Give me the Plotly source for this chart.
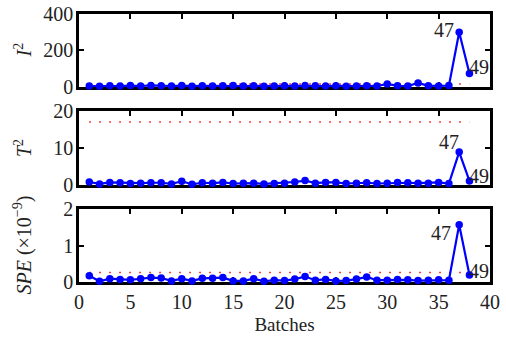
import plotly.graph_objects as go

# Batch index on the horizontal axis
batches = list(range(1, 39))

# Monitoring statistics per batch
i2_values = [5, 4, 6, 5, 7, 5, 8, 6, 5, 7, 4, 6, 5, 6, 7, 5, 6, 4, 5, 6,
             5, 7, 6, 5, 6, 4, 5, 6, 5, 16, 6, 5, 22, 6, 5, 7, 300, 73]
t2_values = [0.8, 0.3, 0.7, 0.6, 0.4, 0.5, 0.6, 0.6, 0.3, 1.0, 0.2, 0.6, 0.5, 0.7, 0.4, 0.5, 0.5, 0.3, 0.4, 0.5,
             0.8, 1.2, 0.5, 0.7, 0.7, 0.4, 0.5, 0.6, 0.4, 0.5, 0.7, 0.6, 0.5, 0.5, 0.7, 0.4, 8.9, 1.1]
spe_values = [0.17, 0.02, 0.09, 0.07, 0.06, 0.09, 0.12, 0.11, 0.03, 0.09, 0.03, 0.10, 0.10, 0.12, 0.03, 0.03, 0.09, 0.02, 0.05, 0.04,
              0.08, 0.15, 0.05, 0.07, 0.03, 0.04, 0.08, 0.14, 0.05, 0.05, 0.07, 0.06, 0.04, 0.05, 0.06, 0.05, 1.57, 0.19]

# Control limits
i2_limit = 16
t2_limit = 17
spe_limit = 0.26

# Labels for the two faulty batches
fault_labels = ["47", "49"]

x_ticks = [0, 5, 10, 15, 20, 25, 30, 35, 40]

FONT = "Liberation Serif, Times New Roman, serif"
TEXT_COLOR = "#222"
BLUE = "#0000ff"
RED = "#ff0000"

# Panel geometry (paper fractions)
domains = [[0.728, 1.0], [0.362, 0.638], [0.0, 0.272]]
panels = [
    (i2_values, i2_limit, [0, 400], [0, 200, 400], "<i>I</i><sup>2</sup>"),
    (t2_values, t2_limit, [0, 20], [0, 10, 20], "<i>T</i><sup>2</sup>"),
    (spe_values, spe_limit, [0, 2], [0, 1, 2], "<i>SPE</i> (×10<sup>−9</sup>)"),
]
# (xanchor, xshift, yshift) for labels "47" and "49" in each panel
label_offsets = [
    [("right", -3, 2), ("left", -2, 7)],
    [("center", -10, 10), ("left", -2, 5)],
    [("right", -6, -8), ("left", -2, 4)],
]

fig = go.Figure()
annotations = []
layout_axes = {}

for k, (vals, limit, yrange, yticks, ylabel) in enumerate(panels):
    suffix = "" if k == 0 else str(k + 1)
    xa = "x" + suffix
    ya = "y" + suffix

    fig.add_trace(go.Scatter(
        x=[batches[0], batches[-1]], y=[limit, limit], mode="lines",
        line=dict(color=RED, width=1.5, dash="1.5px,8.5px"),
        xaxis=xa, yaxis=ya, showlegend=False, hoverinfo="skip",
    ))
    fig.add_trace(go.Scatter(
        x=batches, y=vals, mode="lines+markers",
        line=dict(color=BLUE, width=2.2),
        marker=dict(color=BLUE, size=7.5),
        xaxis=xa, yaxis=ya, showlegend=False, cliponaxis=False,
    ))

    axis_common = dict(
        showline=True, linecolor="black", linewidth=2.5, mirror="ticks",
        ticks="inside", ticklen=5, tickwidth=1.5, tickcolor="black",
        showgrid=False, zeroline=False, layer="below traces",
        automargin=False,
        tickfont=dict(family=FONT, size=20, color=TEXT_COLOR),
    )
    xaxis = dict(
        axis_common, domain=[0, 1], range=[0, 40], tickvals=x_ticks,
        showticklabels=(k == 2), anchor=ya,
    )
    if k == 2:
        xaxis["title"] = dict(text="Batches", font=dict(family=FONT, size=19, color=TEXT_COLOR), standoff=6)
    layout_axes["xaxis" + suffix] = xaxis
    layout_axes["yaxis" + suffix] = dict(
        axis_common, domain=domains[k], range=yrange, tickvals=yticks,
        anchor=xa, ticklabelstandoff=-1,
    )

    annotations.append(dict(
        text=ylabel, xref="paper", yref="paper", x=0, xshift=-56,
        y=sum(domains[k]) / 2, textangle=-90, showarrow=False,
        xanchor="center", yanchor="middle",
        font=dict(family=FONT, size=20, color=TEXT_COLOR),
    ))
    for j, lab in enumerate(fault_labels):
        idx = len(batches) - 2 + j
        anchor, xs, ys = label_offsets[k][j]
        annotations.append(dict(
            text=lab, xref=xa, yref=ya, x=batches[idx], y=vals[idx],
            showarrow=False, xanchor=anchor, yanchor="middle",
            xshift=xs, yshift=ys,
            font=dict(family=FONT, size=20, color=TEXT_COLOR),
        ))

fig.update_layout(
    width=506, height=341,
    margin=dict(l=79, r=16, t=14, b=59, autoexpand=False),
    paper_bgcolor="white", plot_bgcolor="white",
    font=dict(family=FONT, size=20, color=TEXT_COLOR),
    annotations=annotations,
    **layout_axes,
)

fig.write_html("out.html")
